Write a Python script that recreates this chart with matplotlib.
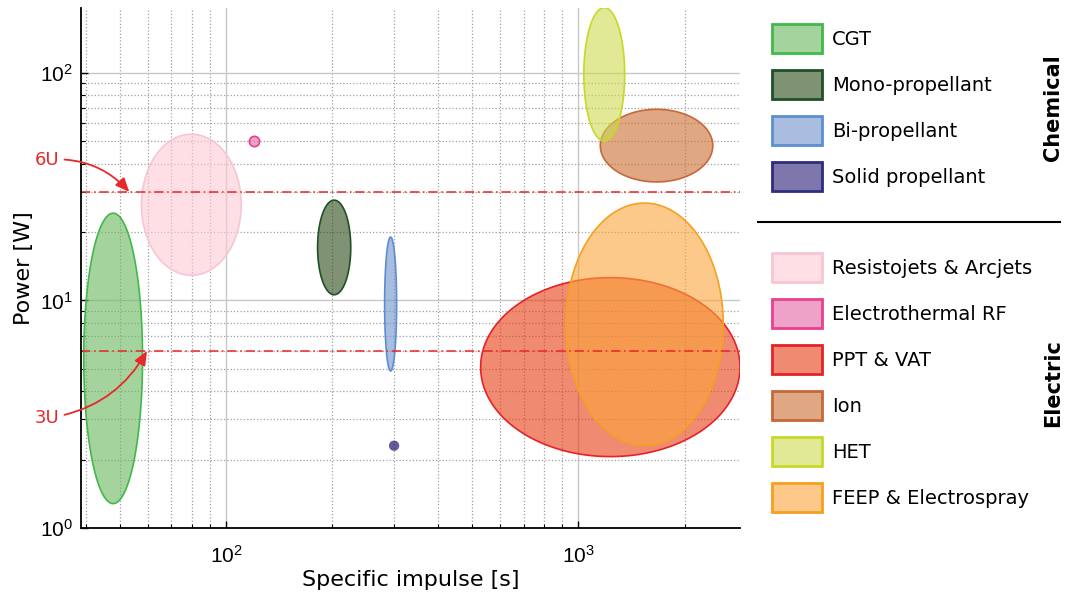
import numpy as np
import matplotlib
matplotlib.use('Agg')
import matplotlib.pyplot as plt
from matplotlib.patches import Patch
from matplotlib.lines import Line2D
from matplotlib.colors import to_rgba
from matplotlib.ticker import NullFormatter, FuncFormatter

plt.rcParams['mathtext.fontset'] = 'custom'
plt.rcParams['mathtext.rm'] = 'Liberation Sans'
plt.rcParams['mathtext.it'] = 'Liberation Sans:italic'
plt.rcParams['mathtext.bf'] = 'Liberation Sans:bold'

# Thruster families: Isp range [s] and power range [W]
chem_names = ['CGT', 'Mono-propellant', 'Bi-propellant', 'Solid propellant']
chem_isp = [(39.5, 58), (182, 226), (282, 305), (300, 300)]
chem_power = [(1.28, 24.2), (10.6, 27.6), (4.9, 19.0), (2.3, 2.3)]
chem_face = ['#69b75c', '#2a4b17', '#6e91cb', '#2a1c76']
chem_edge = ['#3fb94a', '#1f5128', '#5b8fd0', '#2e2c7e']

elec_names = ['Resistojets & Arcjets', 'Electrothermal RF', 'PPT & VAT', 'Ion',
              'HET', 'FEEP & Electrospray']
elec_isp = [(57.6, 110.5), (120, 120), (528, 2874), (1154, 2406),
            (1036, 1353), (921, 2576)]
elec_power = [(12.9, 53.8), (50, 50), (2.06, 12.6), (33.2, 69.2),
              (50.2, 193.7), (2.3, 26.8)]
elec_face = ['#fccbd5', '#e464a3', '#e63c11', '#cb6e30', '#cdd950', '#faa53c']
elec_edge = ['#f7c6d3', '#e8408f', '#e52228', '#c8673a', '#c8d828', '#f7a020']

# CubeSat power levels
cubesat_labels = ['3U', '6U']
cubesat_power = [6, 30]

ALPHA = 0.6

def log_ellipse(ax, xr, yr, face, edge):
    t = np.linspace(0, 2 * np.pi, 300)
    lx = np.log10(xr)
    ly = np.log10(yr)
    cx, a = lx.mean(), (lx[1] - lx[0]) / 2
    cy, b = ly.mean(), (ly[1] - ly[0]) / 2
    ax.fill(10 ** (cx + a * np.cos(t)), 10 ** (cy + b * np.sin(t)),
            facecolor=to_rgba(face, ALPHA), edgecolor=edge, lw=1.2)

def draw_family(ax, isp, power, face, edge):
    for xr, yr, fc, ec in zip(isp, power, face, edge):
        if xr[0] == xr[1]:
            # single design point
            solid = fc == '#2a1c76'
            ax.scatter([xr[0]], [yr[0]], s=55, facecolor=to_rgba(fc, 0.72 if solid else ALPHA),
                       edgecolor='none' if solid else ec, lw=1.2, zorder=3)
        else:
            log_ellipse(ax, np.array(xr), np.array(yr), fc, ec)

def pow10(v, pos):
    return r'$\mathrm{10^{%d}}$' % int(round(np.log10(v)))

fig = plt.figure(figsize=(10.7, 5.97), dpi=100)
ax = fig.add_axes([81 / 1070, 1 - 528 / 597, 659 / 1070, 520 / 597])
ax.set_xscale('log')
ax.set_yscale('log')

draw_family(ax, chem_isp, chem_power, chem_face, chem_edge)
draw_family(ax, elec_isp, elec_power, elec_face, elec_edge)

ax.set_xlim(38.8, 2874)
ax.set_ylim(1, 193)

ax.grid(True, which='major', color='#c8c8c8', lw=1.0, ls='-')
ax.grid(True, which='minor', color='#a0a0a0', lw=0.9, ls=':')
ax.set_axisbelow(True)
ax.xaxis.set_major_formatter(FuncFormatter(pow10))
ax.yaxis.set_major_formatter(FuncFormatter(pow10))
ax.xaxis.set_minor_formatter(NullFormatter())
ax.yaxis.set_minor_formatter(NullFormatter())

for s in ['top', 'right']:
    ax.spines[s].set_visible(False)
for s in ['left', 'bottom']:
    ax.spines[s].set_linewidth(1.3)
ax.tick_params(which='major', direction='in', length=5, width=1, labelsize=15)
ax.tick_params(which='minor', direction='in', length=3, width=0.8)
ax.tick_params(axis='x', which='major', pad=12)
ax.tick_params(axis='y', which='major', pad=6)

ax.set_xlabel('Specific impulse [s]', fontsize=16)
ax.set_ylabel('Power [W]', fontsize=16)
ax.xaxis.set_label_coords(0.5, -0.08)
ax.yaxis.set_label_coords(-0.072, 0.5)

# CubeSat power lines with labels
text_pos = {'3U': (31, 3.04), '6U': (31, 41.5)}
tip_x = {'3U': 59.7, '6U': 53.2}
rads = {'3U': 0.25, '6U': -0.25}
for lab, p in zip(cubesat_labels, cubesat_power):
    ax.axhline(p, color='#e8282b', alpha=0.8, lw=1.4, ls=(0, (4.8, 1.9, 0.8, 1.9)))
    ax.annotate(lab, xy=(tip_x[lab], p), xytext=text_pos[lab],
                color='#e8282b', fontsize=13, ha='center', va='center',
                annotation_clip=False,
                arrowprops=dict(arrowstyle='-|>,head_length=0.7,head_width=0.3',
                                mutation_scale=12, color='#e8282b', lw=1.3,
                                connectionstyle='arc3,rad=%s' % rads[lab],
                                shrinkA=2, shrinkB=0))

# Grouped legends
leg_kw = dict(loc='upper left', frameon=False, fontsize=14, handlelength=2.57,
              handleheight=1.918, labelspacing=0.875, handletextpad=0.5,
              borderpad=0, borderaxespad=0)
chem_handles = [Patch(facecolor=to_rgba(f, ALPHA), edgecolor=e, lw=2)
                for f, e in zip(chem_face, chem_edge)]
elec_handles = [Patch(facecolor=to_rgba(f, ALPHA), edgecolor=e, lw=2)
                for f, e in zip(elec_face, elec_edge)]
fig.legend(chem_handles, chem_names, bbox_to_anchor=(772 / 1070, 1 - 24.3 / 597), **leg_kw)
fig.legend(elec_handles, elec_names, bbox_to_anchor=(772 / 1070, 1 - 253.3 / 597), **leg_kw)

fig.add_artist(Line2D([758 / 1070, 1060 / 1070], [1 - 222.3 / 597] * 2,
                      color='black', lw=1.5))
fig.text(1053 / 1070, 1 - 107.5 / 597, 'Chemical', rotation=90, fontsize=15,
         fontweight='bold', ha='center', va='center')
fig.text(1053 / 1070, 1 - 383.5 / 597, 'Electric', rotation=90, fontsize=15,
         fontweight='bold', ha='center', va='center')

fig.savefig('out.png', dpi=100)
